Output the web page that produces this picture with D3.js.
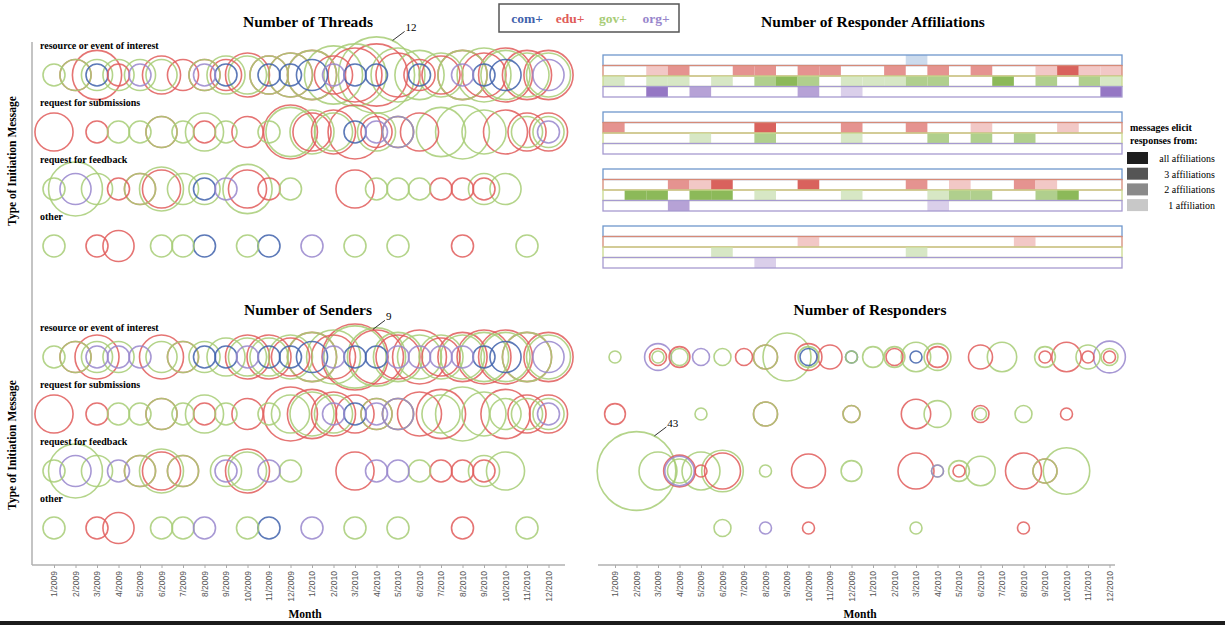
<!DOCTYPE html>
<html>
<head>
<meta charset="utf-8">
<script src="https://cdn.jsdelivr.net/npm/d3@7"></script>
<style>
body { margin: 0; background: #fff; }
svg text { font-family: "Liberation Serif", "Times New Roman", serif; }
</style>
</head>
<body>
<svg id="chart" width="1225" height="625"></svg>
<script>

var months = ["1/2009","2/2009","3/2009","4/2009","5/2009","6/2009","7/2009","8/2009","9/2009","10/2009","11/2009","12/2009",
              "1/2010","2/2010","3/2010","4/2010","5/2010","6/2010","7/2010","8/2010","9/2010","10/2010","11/2010","12/2010"];
var msgTypes = ["resource or event of interest", "request for submissions", "request for feedback", "other"];
var affils = ["com+", "edu+", "gov+", "org+"];
var levelLabels = ["all affiliations", "3 affiliations", "2 affiliations", "1 affiliation"];

// Number of Threads, one row per message type, 24 months
var threadsCom = [
  [0,0,1,0,0,0,0,0,1,0,1,1, 2,0,1,1,0,1,0,0,1,2,0,0],
  [0,0,0,0,0,0,0,0,0,0,0,0, 0,0,1,0,0,0,0,0,0,0,0,0],
  [0,0,0,0,0,0,0,1,0,0,0,0, 0,0,0,0,0,0,0,0,0,0,0,0],
  [0,0,0,0,0,0,0,1,0,0,1,0, 0,0,0,0,0,0,0,0,0,0,0,0]];
var threadsEdu = [
  [0,2,5,1,0,3,2,2,2,4,3,4, 5,3,6,8,4,2,3,5,4,6,5,5],
  [3,0,1,0,0,2,0,1,0,2,0,6, 3,4,6,2,2,3,0,0,0,4,3,3],
  [0,0,0,1,2,3,0,0,0,3,1,0, 0,0,3,0,0,0,1,1,1,0,0,0],
  [0,0,1,2,0,0,0,0,0,0,0,0, 0,0,0,0,0,0,0,1,0,0,0,0]];
var threadsGov = [
  [1,2,2,2,2,2,0,2,3,3,3,4, 5,7,8,12,6,5,4,5,6,5,4,4],
  [0,0,0,1,1,2,1,3,1,0,1,5, 4,3,0,3,2,0,5,6,4,0,2,2],
  [1,6,2,0,2,4,2,2,0,5,0,1, 0,0,0,1,1,1,0,0,2,2,0,0],
  [1,0,0,0,0,1,1,0,0,1,0,0, 0,0,1,0,1,0,0,0,0,0,1,0]];
var threadsOrg = [
  [0,0,0,0,1,0,0,1,0,0,0,0, 0,1,0,0,0,0,0,1,0,0,0,2],
  [0,0,0,0,0,0,0,0,0,0,0,0, 0,0,0,1,2,0,0,0,0,0,0,1],
  [0,2,0,0,0,0,0,0,1,0,0,0, 0,0,0,0,0,0,0,0,0,0,0,0],
  [0,0,0,0,0,0,0,0,0,0,0,0, 1,0,0,0,0,0,0,0,0,0,0,0]];

// Number of Senders
var sendersCom = [
  [0,0,0,0,0,0,0,1,1,0,1,1, 2,0,1,1,0,0,0,0,1,2,0,0],
  [0,0,0,0,0,0,0,0,0,0,0,0, 0,0,1,0,0,0,0,0,0,0,0,0],
  [0,0,0,0,0,0,0,0,0,0,0,0, 0,0,0,0,0,0,0,0,0,0,0,0],
  [0,0,0,0,0,0,0,0,0,0,1,0, 0,0,0,0,0,0,0,0,0,0,0,0]];
var sendersEdu = [
  [0,2,4,0,0,4,2,0,0,4,4,3, 5,4,9,6,4,6,3,5,6,6,5,5],
  [3,0,1,0,0,2,0,1,0,2,0,6, 5,4,3,2,2,4,5,0,0,5,3,3],
  [0,0,0,0,2,3,2,0,0,4,0,0, 0,0,3,0,0,0,1,1,1,0,0,0],
  [0,0,1,2,0,0,0,0,0,0,0,0, 0,0,0,0,0,0,0,1,0,0,0,0]];
var sendersGov = [
  [1,2,2,2,0,2,2,2,3,3,3,4, 5,6,8,7,5,4,4,4,5,5,5,4],
  [0,0,0,1,1,2,1,3,1,0,1,3, 4,3,0,2,2,0,3,6,4,2,2,2],
  [1,6,2,0,2,4,2,0,2,3,0,1, 0,0,0,0,0,1,0,0,2,3,0,0],
  [1,0,0,0,0,1,1,0,0,1,0,0, 0,0,1,0,1,0,0,0,0,0,1,0]];
var sendersOrg = [
  [0,0,1,1,1,0,0,0,0,1,0,0, 0,1,0,0,1,1,1,1,0,0,0,2],
  [0,0,0,0,0,0,0,0,0,0,0,0, 0,1,0,1,2,0,0,0,0,0,0,1],
  [0,2,0,1,0,0,0,0,1,0,1,0, 0,0,0,1,1,0,0,0,0,0,0,0],
  [0,0,0,0,0,0,0,1,0,0,0,0, 1,0,0,0,0,0,0,0,0,0,0,0]];

// Number of Responders
var respCom = [
  [0,0,0,0,0,0,0,0,0,2,0,1, 0,0,1,0,0,0,0,0,0,0,0,0],
  [0,0,0,0,0,0,0,0,0,0,0,0, 0,0,0,0,0,0,0,0,0,0,0,0],
  [0,0,0,0,0,0,0,0,0,0,0,0, 0,0,0,0,0,0,0,0,0,0,0,0],
  [0,0,0,0,0,0,0,0,0,0,0,0, 0,0,0,0,0,0,0,0,0,0,0,0]];
var respEdu = [
  [0,0,2,3,0,0,2,4,0,5,4,0, 0,2,0,3,0,4,0,0,1,6,1,1],
  [3,0,0,0,0,0,0,4,0,0,0,2, 0,0,6,0,0,2,0,0,0,1,0,0],
  [0,0,0,7,1,9,0,0,0,8,0,0, 0,0,9,0,1,0,0,9,4,0,0,0],
  [0,0,0,0,0,0,0,0,0,1,0,0, 0,0,0,0,0,0,0,1,0,0,0,0]];
var respGov = [
  [1,0,1,2,0,2,0,4,16,3,0,1, 3,3,6,5,0,0,6,0,3,0,4,2],
  [0,0,0,0,1,0,0,4,0,0,0,2, 0,0,0,5,0,1,0,2,0,0,0,0],
  [0,43,10,4,10,12,0,1,0,0,0,3, 0,0,0,1,3,6,0,0,4,15,0,0],
  [0,0,0,0,0,2,0,0,0,0,0,0, 0,0,1,0,0,0,0,0,0,0,0,0]];
var respOrg = [
  [0,0,5,0,2,0,0,0,0,0,0,0, 0,0,0,0,0,0,0,0,0,0,0,7],
  [0,0,0,0,0,0,0,0,0,0,0,0, 0,0,0,0,0,0,0,0,0,0,0,0],
  [0,0,0,6,0,0,0,0,0,0,0,0, 0,0,0,1,0,0,0,0,0,0,0,0],
  [0,0,0,0,0,0,0,1,0,0,0,0, 0,0,0,0,0,0,0,0,0,0,0,0]];

// Responder affiliations: 0 = none, 1..4 = number of affiliations
var affilCom = [
  [0,0,0,0,0,0,0,0,0,0,0,0, 0,0,1,0,0,0,0,0,0,0,0,0],
  [0,0,0,0,0,0,0,0,0,0,0,0, 0,0,0,0,0,0,0,0,0,0,0,0],
  [0,0,0,0,0,0,0,0,0,0,0,0, 0,0,0,0,0,0,0,0,0,0,0,0],
  [0,0,0,0,0,0,0,0,0,0,0,0, 0,0,0,0,0,0,0,0,0,0,0,0]];
var affilEdu = [
  [0,0,1,2,0,0,2,2,0,2,2,0, 0,2,0,2,0,2,0,0,1,3,1,1],
  [2,0,0,0,0,0,0,3,0,0,0,2, 0,0,2,0,0,1,0,0,0,1,0,0],
  [0,0,0,2,1,3,0,0,0,3,0,0, 0,0,2,0,1,0,0,2,1,0,0,0],
  [0,0,0,0,0,0,0,0,0,1,0,0, 0,0,0,0,0,0,0,1,0,0,0,0]];
var affilGov = [
  [1,0,1,1,0,1,0,2,3,2,0,1, 1,1,2,2,0,0,3,0,2,0,2,1],
  [0,0,0,0,1,0,0,2,0,0,0,1, 0,0,0,2,0,2,0,2,0,0,0,0],
  [0,3,3,0,3,3,0,1,0,0,0,1, 0,0,0,1,2,2,0,0,2,3,0,0],
  [0,0,0,0,0,1,0,0,0,0,0,0, 0,0,1,0,0,0,0,0,0,0,0,0]];
var affilOrg = [
  [0,0,3,0,2,0,0,0,0,2,0,1, 0,0,0,0,0,0,0,0,0,0,0,3],
  [0,0,0,0,0,0,0,0,0,0,0,0, 0,0,0,0,0,0,0,0,0,0,0,0],
  [0,0,0,2,0,0,0,0,0,0,0,0, 0,0,0,1,0,0,0,0,0,0,0,0],
  [0,0,0,0,0,0,0,1,0,0,0,0, 0,0,0,0,0,0,0,0,0,0,0,0]];

var circleColor = {"com+": "#3f62ac", "edu+": "#e05c5a", "gov+": "#a7cc76", "org+": "#9886cc"};
var heatBase = {"com+": "#4a7fc0", "edu+": "#cf3b35", "gov+": "#6fa830", "org+": "#7a55b5"};
var rowStroke = {"com+": "#6f97cc", "edu+": "#d68a78", "gov+": "#c9d98e", "org+": "#a69ad0"};
var levelT = [0, 0.28, 0.55, 0.8, 1];

var svg = d3.select("#chart");

svg.append("rect").attr("width", 1225).attr("height", 625).attr("fill", "#fff");

// x scales for the two columns
var xLeft = d3.scalePoint().domain(months).range([54, 548.5]);
var xRight = d3.scalePoint().domain(months).range([615, 1109.5]);
var yTop = d3.scalePoint().domain(msgTypes).range([75, 246]);
var yBot = d3.scalePoint().domain(msgTypes).range([357, 528]);

var rCount = d3.scaleSqrt().domain([0, 12]).range([0, 11 * Math.sqrt(12)]);
var rResp = d3.scaleSqrt().domain([0, 43]).range([0, 6 * Math.sqrt(43)]);

function flatten(series){
  // series: [com, edu, gov, org], each 4 rows x 24 months
  var out = [];
  series.forEach(function(rows, a){
    rows.forEach(function(vals, t){
      vals.forEach(function(v, m){
        if(v > 0) out.push({affil: affils[a], type: msgTypes[t], month: months[m], value: v});
      });
    });
  });
  // big circles first so small ones stay visible
  return out.sort(function(a, b){ return b.value - a.value; });
}

function bubbles(data, x, y, r){
  svg.append("g")
    .selectAll("circle")
    .data(data)
    .join("circle")
      .attr("cx", d => x(d.month))
      .attr("cy", d => y(d.type))
      .attr("r", d => r(d.value))
      .attr("fill", "none")
      .attr("stroke", d => circleColor[d.affil])
      .attr("stroke-width", 1.6)
      .attr("stroke-opacity", 0.85);
}

function rowLabels(y){
  svg.append("g")
    .selectAll("text")
    .data(msgTypes)
    .join("text")
      .attr("x", 40)
      .attr("y", d => y(d) - 26)
      .style("font-size", "10px")
      .style("font-weight", "bold")
      .text(d => d);
}

function title(txt, x, y){
  svg.append("text")
    .attr("x", x).attr("y", y)
    .attr("text-anchor", "middle")
    .style("font-size", "15.5px")
    .style("font-weight", "bold")
    .text(txt);
}

function annotate(x, y, r, d, angle){
  var a = angle * Math.PI / 180;
  var px = x(d.month) + r(d.value) * Math.cos(a);
  var py = y(d.type) + r(d.value) * Math.sin(a);
  svg.append("line")
    .attr("x1", px).attr("y1", py)
    .attr("x2", px + 12).attr("y2", py - 9)
    .attr("stroke", "#333").attr("stroke-width", 1);
  svg.append("text")
    .attr("x", px + 13).attr("y", py - 9)
    .style("font-size", "11px")
    .text(d.value);
}

// bubble panels
bubbles(flatten([threadsCom, threadsEdu, threadsGov, threadsOrg]), xLeft, yTop, rCount);
bubbles(flatten([sendersCom, sendersEdu, sendersGov, sendersOrg]), xLeft, yBot, rCount);
bubbles(flatten([respCom, respEdu, respGov, respOrg]), xRight, yBot, rResp);

rowLabels(yTop);
rowLabels(yBot);

title("Number of Threads", 308, 27);
title("Number of Senders", 308, 315);
title("Number of Responders", 870, 315);
title("Number of Responder Affiliations", 873, 27);

annotate(xLeft, yTop, rCount, {month: months[15], type: msgTypes[0], value: threadsGov[0][15]}, -65);
annotate(xLeft, yBot, rCount, {month: months[14], type: msgTypes[0], value: sendersEdu[0][14]}, -57);
annotate(xRight, yBot, rResp, {month: months[1], type: msgTypes[2], value: respGov[2][1]}, -63);

// heat strips for responder affiliations
var xHeat = d3.scaleBand().domain(months).range([603, 1122]);
var rowH = 10.5;
var heatSeries = [affilCom, affilEdu, affilGov, affilOrg];

msgTypes.forEach(function(t, ti){
  var top = yTop(t) - 20;
  var grp = svg.append("g");
  affils.forEach(function(a, ai){
    var vals = heatSeries[ai][ti];
    var yy = top + ai * rowH;
    var col = d3.interpolateRgb("#ffffff", heatBase[a]);
    grp.append("g")
      .selectAll("rect")
      .data(vals.map((v, m) => ({month: months[m], level: v})).filter(d => d.level > 0))
      .join("rect")
        .attr("x", d => xHeat(d.month))
        .attr("y", yy)
        .attr("width", xHeat.bandwidth())
        .attr("height", rowH)
        .attr("fill", d => col(levelT[d.level]));
    grp.append("rect")
      .attr("x", 603).attr("y", yy)
      .attr("width", 1122 - 603).attr("height", rowH)
      .attr("fill", "none")
      .attr("stroke", rowStroke[a])
      .attr("stroke-width", 1.3);
  });
});

// level legend
svg.append("text").attr("x", 1130).attr("y", 131)
  .style("font-size", "10px").style("font-weight", "bold").text("messages elicit");
svg.append("text").attr("x", 1130).attr("y", 144)
  .style("font-size", "10px").style("font-weight", "bold").text("responses from:");
var greys = ["#1e1e1e", "#555555", "#8a8a8a", "#c8c8c8"];
var lg = svg.append("g").selectAll("g").data(levelLabels).join("g")
  .attr("transform", (d, i) => "translate(0," + (152 + i * 15.7) + ")");
lg.append("rect").attr("x", 1127).attr("width", 21).attr("height", 12)
  .attr("fill", (d, i) => greys[i]);
lg.append("text").attr("x", 1215).attr("y", 10)
  .attr("text-anchor", "end").style("font-size", "10px").text(d => d);

// affiliation legend box
svg.append("rect").attr("x", 499).attr("y", 4).attr("width", 180).attr("height", 28)
  .attr("fill", "#fff").attr("stroke", "#555").attr("stroke-width", 1.5);
svg.append("g").selectAll("text").data(affils).join("text")
  .attr("x", (d, i) => 527 + i * 43)
  .attr("y", 23)
  .attr("text-anchor", "middle")
  .style("font-size", "13.5px")
  .style("font-weight", "bold")
  .attr("fill", d => circleColor[d])
  .text(d => d);

// axes
svg.append("line").attr("x1", 32).attr("x2", 32).attr("y1", 42).attr("y2", 565)
  .attr("stroke", "#b0b0b0").attr("stroke-width", 1.5);
svg.append("line").attr("x1", 32).attr("x2", 565).attr("y1", 565).attr("y2", 565)
  .attr("stroke", "#b0b0b0").attr("stroke-width", 1.5);
svg.append("line").attr("x1", 598).attr("x2", 1115).attr("y1", 565).attr("y2", 565)
  .attr("stroke", "#b0b0b0").attr("stroke-width", 1.5);

function monthAxis(x){
  var g = svg.append("g")
    .attr("transform", "translate(0,565)")
    .call(d3.axisBottom(x).tickSize(3));
  g.select(".domain").remove();
  g.selectAll("line").attr("stroke", "#aaa");
  g.selectAll("text")
    .attr("transform", "rotate(-90)")
    .attr("x", -6).attr("y", 0).attr("dy", "0.32em")
    .style("text-anchor", "end")
    .style("font-family", "Liberation Sans, Arial, sans-serif")
    .style("font-size", "8.5px")
    .attr("fill", "#555");
}
monthAxis(xLeft);
monthAxis(xRight);

svg.append("text").attr("x", 305).attr("y", 618).attr("text-anchor", "middle")
  .style("font-size", "11.5px").style("font-weight", "bold").text("Month");
svg.append("text").attr("x", 860).attr("y", 618).attr("text-anchor", "middle")
  .style("font-size", "11.5px").style("font-weight", "bold").text("Month");

[161, 445].forEach(function(cy){
  svg.append("text")
    .attr("transform", "translate(16," + cy + ") rotate(-90)")
    .attr("text-anchor", "middle")
    .style("font-size", "11.5px")
    .style("font-weight", "bold")
    .text("Type of Initiation Message");
});

// dark strip along the bottom edge
svg.append("rect").attr("x", 0).attr("y", 621).attr("width", 1225).attr("height", 4).attr("fill", "#1c1c1c");

</script>
</body>
</html>
